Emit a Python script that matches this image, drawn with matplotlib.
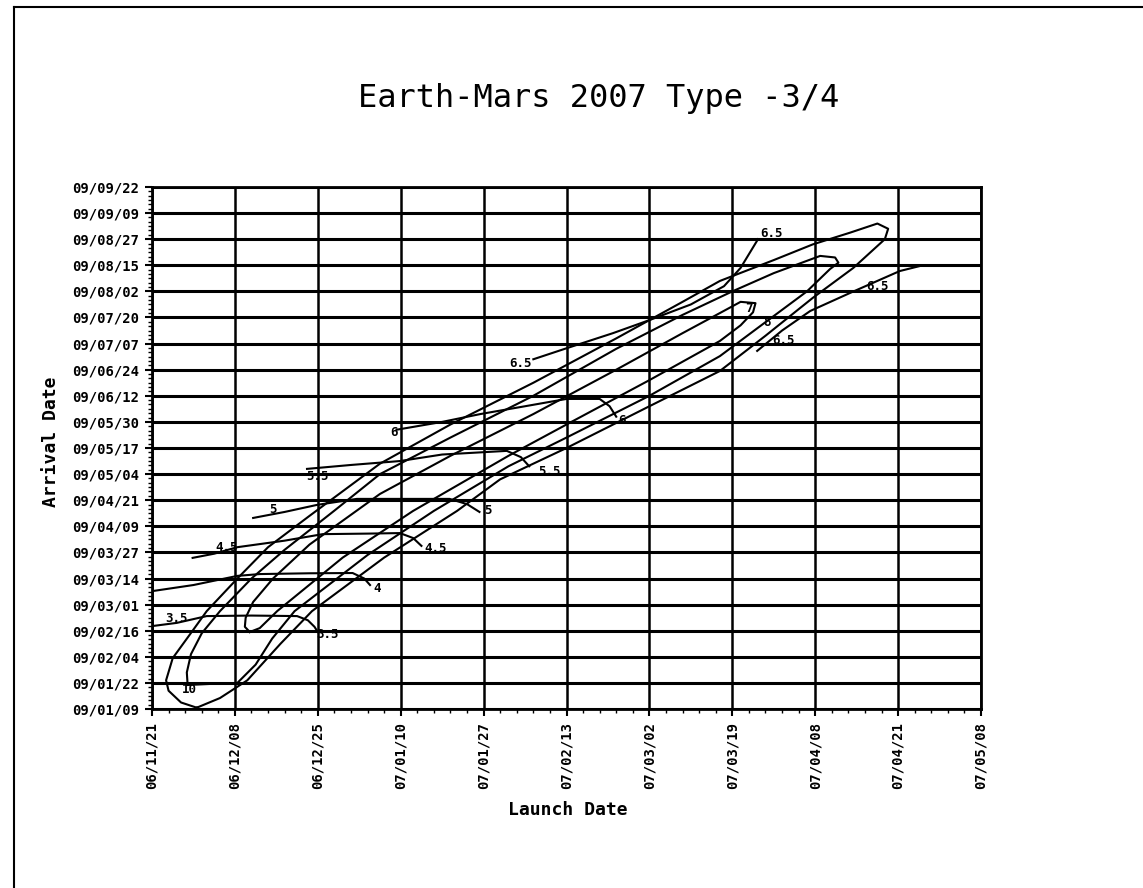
import numpy as np
import matplotlib
matplotlib.use("Agg")
import matplotlib.pyplot as plt
from matplotlib.ticker import MultipleLocator
from matplotlib.lines import Line2D

# tick labels (launch dates on x, arrival dates on y)
launch_labels = ["06/11/21", "06/12/08", "06/12/25", "07/01/10", "07/01/27", "07/02/13",
                 "07/03/02", "07/03/19", "07/04/08", "07/04/21", "07/05/08"]
arrival_labels = ["09/01/09", "09/01/22", "09/02/04", "09/02/16", "09/03/01", "09/03/14",
                  "09/03/27", "09/04/09", "09/04/21", "09/05/04", "09/05/17", "09/05/30",
                  "09/06/12", "09/06/24", "09/07/07", "09/07/20", "09/08/02", "09/08/15",
                  "09/08/27", "09/09/09", "09/09/22"]

# contour loops in grid units (launch step, arrival step)
loop_a_u = [0.54, 0.35, 0.2, 0.17, 0.25, 0.49, 0.66, 1.03, 1.4, 1.9, 2.75, 3.6, 4.6, 5.6, 6.4, 6.85,
            7.5, 7.97, 8.42, 8.75, 8.88, 8.84, 8.46, 7.97, 7.4, 6.85, 6.0, 5.0, 4.2, 3.68, 2.8,
            1.93, 1.55, 1.15, 0.82, 0.54]
loop_a_v = [0.05, 0.25, 0.7, 1.1, 1.95, 3.0, 3.75, 5.0, 6.2, 7.4, 9.4, 10.9, 12.5, 14.2, 15.6, 16.4,
            17.2, 17.8, 18.25, 18.6, 18.4, 18.0, 16.9, 15.75, 14.3, 12.95, 11.6, 10.0, 8.8, 7.59, 5.8,
            3.75, 2.5, 1.1, 0.42, 0.05]

loop_b_u = [0.43, 0.42, 0.47, 0.6, 0.82, 1.2, 1.6, 2.2, 2.75, 3.6, 4.6, 5.6, 6.4, 7.0, 7.5, 8.06,
            8.24, 8.28, 8.18, 7.9, 7.37, 6.85, 6.0, 5.0, 4.3, 3.4, 2.6, 1.72, 1.45, 1.25, 1.03,
            0.7, 0.43]
loop_b_v = [0.92, 1.4, 2.1, 2.9, 3.75, 5.0, 6.1, 7.6, 9.0, 10.4, 12.0, 13.8, 15.1, 16.0, 16.7, 17.36,
            17.3, 17.1, 16.86, 16.0, 14.75, 13.52, 12.0, 10.4, 9.3, 7.59, 5.9, 3.75, 2.7, 1.7, 1.0,
            0.96, 0.92]

loop_c_u = [1.18, 1.12, 1.13, 1.22, 1.46, 1.9, 2.75, 3.6, 4.6, 5.6, 6.4, 6.85, 7.1, 7.28, 7.25,
            7.1, 6.85, 6.0, 5.0, 4.3, 3.15, 2.3, 1.51, 1.3, 1.18]
loop_c_v = [2.95, 3.15, 3.5, 4.1, 5.0, 6.3, 8.24, 9.7, 11.3, 13.0, 14.4, 15.17, 15.6, 15.55, 15.2,
            14.7, 14.1, 12.6, 10.9, 9.7, 7.59, 5.8, 3.75, 3.1, 2.95]

# open contours with hooked ends
c35_u = [0.01, 0.3, 0.66, 1.2, 1.75, 1.88, 1.96, 2.0]
c35_v = [3.18, 3.3, 3.56, 3.58, 3.56, 3.4, 3.15, 2.95]
c40_u = [0.01, 0.5, 1.03, 1.3, 1.9, 2.42, 2.56, 2.63]
c40_v = [4.52, 4.75, 5.1, 5.17, 5.2, 5.21, 5.0, 4.75]
c45_u = [0.49, 0.75, 1.03, 1.6, 2.06, 2.6, 2.99, 3.15, 3.25]
c45_v = [5.79, 5.95, 6.2, 6.45, 6.7, 6.72, 6.74, 6.55, 6.25]
c50_u = [1.22, 1.6, 1.99, 2.47, 3.0, 3.59, 3.8, 3.95]
c50_v = [7.32, 7.55, 7.82, 8.05, 8.05, 8.05, 7.85, 7.55]
c55_u = [1.87, 2.4, 2.99, 3.5, 4.28, 4.45, 4.55]
c55_v = [9.2, 9.35, 9.5, 9.75, 9.89, 9.65, 9.3]
c60_u = [2.95, 3.08, 3.5, 3.96, 4.5, 5.0, 5.4, 5.52, 5.6]
c60_v = [10.7, 10.77, 11.0, 11.3, 11.6, 11.88, 11.88, 11.6, 11.2]
c65a_u = [4.6, 4.98, 5.56, 6.0, 6.5, 6.9, 7.1, 7.31]
c65a_v = [13.4, 13.8, 14.4, 14.9, 15.5, 16.2, 16.9, 18.0]
c65b_u = [7.3, 7.6, 7.94, 8.42, 9.02, 9.26]
c65b_v = [13.72, 14.5, 15.25, 15.94, 16.78, 16.97]

label_text = ["3.5", "3.5", "4", "4.5", "4.5", "5", "5", "5.5", "5.5", "6", "6",
              "6.5", "6.5", "6.5", "6.5", "7", "8", "10"]
label_u = [0.3, 2.12, 2.72, 0.9, 3.42, 1.46, 4.05, 2.0, 4.8, 2.92, 5.67,
           4.45, 7.47, 8.75, 7.62, 7.2, 7.42, 0.45]
label_v = [3.45, 2.85, 4.6, 6.2, 6.15, 7.65, 7.6, 8.9, 9.1, 10.6, 11.05,
           13.25, 18.2, 16.2, 14.1, 15.35, 14.8, 0.75]

W, H = 1143, 888
fig = plt.figure(figsize=(W / 100, H / 100), dpi=100)
ax = fig.add_axes([152 / W, 1 - 709 / H, (981 - 152) / W, (709 - 187) / H])

mono = "DejaVu Sans Mono"

ax.set_xlim(0, len(launch_labels) - 1)
ax.set_ylim(0, len(arrival_labels) - 1)
ax.set_xticks(np.arange(len(launch_labels)))
ax.set_yticks(np.arange(len(arrival_labels)))
ax.set_xticklabels(launch_labels, rotation=90, family=mono, fontweight="bold", fontsize=10)
ax.set_yticklabels(arrival_labels, family=mono, fontweight="bold", fontsize=10)
ax.xaxis.set_minor_locator(MultipleLocator(0.2))
ax.yaxis.set_minor_locator(MultipleLocator(1 / 6))
ax.tick_params(which="major", direction="out", length=5, width=1.5, pad=4)
ax.tick_params(which="minor", direction="out", length=3, width=1.0)

ax.grid(True, axis="y", which="major", color="black", linewidth=2.2)
ax.grid(True, axis="x", which="major", color="black", linewidth=1.8)
for s in ax.spines.values():
    s.set_linewidth(2.0)

for uu, vv in [(loop_a_u, loop_a_v), (loop_b_u, loop_b_v), (loop_c_u, loop_c_v),
               (c35_u, c35_v), (c40_u, c40_v), (c45_u, c45_v), (c50_u, c50_v),
               (c55_u, c55_v), (c60_u, c60_v), (c65a_u, c65a_v), (c65b_u, c65b_v)]:
    ax.plot(uu, vv, color="black", linewidth=1.5, solid_joinstyle="round")

for t, uu, vv in zip(label_text, label_u, label_v):
    ax.text(uu, vv, t, family=mono, fontweight="bold", fontsize=9,
            ha="center", va="center", color="black")

fig.text(599 / W, 1 - 98 / H, "Earth-Mars 2007 Type -3/4", family=mono,
         fontsize=23, ha="center", va="center")
fig.text(568 / W, 1 - 810 / H, "Launch Date", family=mono, fontweight="bold",
         fontsize=13, ha="center", va="center")
fig.text(51 / W, 1 - 442 / H, "Arrival Date", family=mono, fontweight="bold",
         fontsize=13, ha="center", va="center", rotation=90)

# page frame from the scan
fig.add_artist(Line2D([14 / W, 1], [1 - 7 / H, 1 - 7 / H], color="black", linewidth=1.5))
fig.add_artist(Line2D([14 / W, 14 / W], [0, 1 - 7 / H], color="black", linewidth=1.5))

fig.savefig("out.png", dpi=100)
